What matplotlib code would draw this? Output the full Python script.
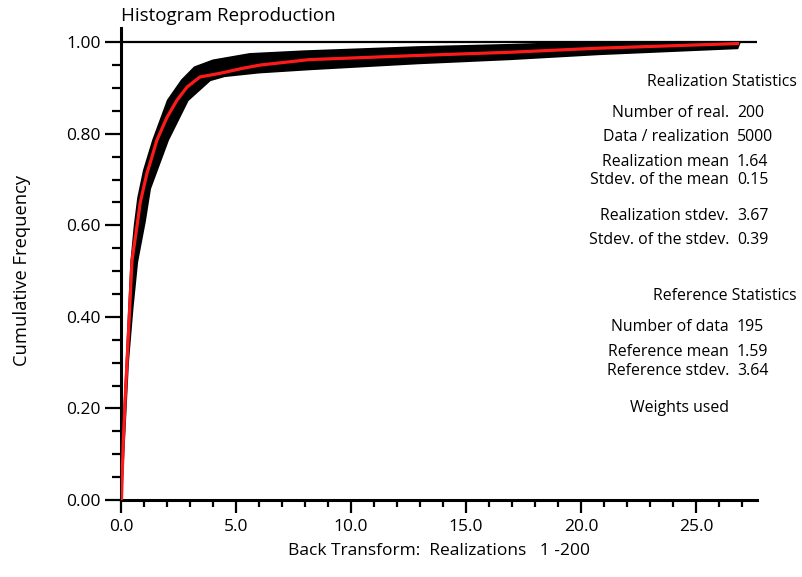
import matplotlib
matplotlib.use("Agg")
import matplotlib.pyplot as plt
import numpy as np
from matplotlib.ticker import MultipleLocator

plt.rcParams["font.family"] = ["Open Sans", "DejaVu Sans"]

# envelope of the 200 realization CDFs (upper/left edge and lower/right edge)
band_hi_x = [0.0, 0.1, 0.3, 0.45, 0.6, 0.75, 1.0, 1.4, 2.04, 2.65, 3.2, 4.0, 5.6, 8.0, 12.9, 16.9, 20.0, 26.9]
band_hi_y = [0.0, 0.15, 0.36, 0.52, 0.60, 0.66, 0.72, 0.786, 0.873, 0.917, 0.945, 0.960, 0.974, 0.980, 0.989, 0.994, 0.999, 1.0]
band_lo_x = [0.0, 0.1, 0.3, 0.5, 0.7, 1.04, 1.26, 2.04, 2.9, 3.87, 4.5, 6.0, 8.2, 12.9, 16.9, 20.8, 26.8, 26.9]
band_lo_y = [0.0, 0.10, 0.30, 0.42, 0.52, 0.61, 0.68, 0.786, 0.873, 0.917, 0.926, 0.934, 0.941, 0.954, 0.963, 0.974, 0.987, 1.0]

# reference distribution CDF
ref_x = [0.02, 0.1, 0.2, 0.3, 0.48, 0.7, 0.83, 0.96, 1.13, 1.35, 1.56, 2.0, 2.43, 2.87, 3.43,
         4.3, 5.3, 6.04, 8.2, 12.9, 16.9, 20.8, 26.8]
ref_y = [0.0, 0.13, 0.24, 0.34, 0.524, 0.60, 0.648, 0.677, 0.714, 0.75, 0.786, 0.836, 0.873, 0.902, 0.924,
         0.932, 0.943, 0.950, 0.962, 0.971, 0.978, 0.987, 0.997]

real_labels = ["Number of real.", "Data / realization", "Realization mean", "Stdev. of the mean",
               "Realization stdev.", "Stdev. of the stdev."]
real_values = ["200", "5000", "1.64", "0.15", "3.67", "0.39"]
ref_labels = ["Number of data", "Reference mean", "Reference stdev."]
ref_values = ["195", "1.59", "3.64"]

W, H = 802, 577
fig = plt.figure(figsize=(W / 100, H / 100), dpi=100)
ax = fig.add_axes([121 / W, 77 / H, 636 / W, 472 / H])

poly_x = np.concatenate([band_hi_x, band_lo_x[::-1]])
poly_y = np.concatenate([band_hi_y, band_lo_y[::-1]])
ax.fill(poly_x, poly_y, color="black", lw=1.5, zorder=2)
ax.plot(ref_x, ref_y, color="#ff1a1a", lw=2.3, zorder=3)
ax.axhline(1.0, color="black", lw=1.6, zorder=1)

ax.set_xlim(0, 27.65)
ax.set_ylim(0, 1.031)
for s in ("top", "right"):
    ax.spines[s].set_visible(False)
for s in ("left", "bottom"):
    ax.spines[s].set_linewidth(2.2)

ax.xaxis.set_minor_locator(MultipleLocator(1))
ax.yaxis.set_minor_locator(MultipleLocator(0.05))
ax.set_xticks(np.arange(0, 26, 5))
ax.set_xticklabels([f"{v:.1f}" for v in np.arange(0, 26, 5)])
ax.set_yticks(np.arange(0, 1.01, 0.2))
ax.set_yticklabels([f"{v:.2f}" for v in np.arange(0, 1.01, 0.2)])
ax.tick_params(axis="y", which="major", length=11.5, width=1.6, pad=3, labelsize=12.5)
ax.tick_params(axis="y", which="minor", length=6.5, width=1.6)
ax.tick_params(axis="x", which="major", length=9.5, width=1.6, pad=4, labelsize=12.5)
ax.tick_params(axis="x", which="minor", length=5, width=1.6)

fig.text(121 / W, 1 - 16 / H, "Histogram Reproduction", fontsize=13.5, ha="left", va="center")
fig.text(22 / W, 1 - 270 / H, "Cumulative Frequency", fontsize=13.2, rotation=90,
         ha="center", va="center")
fig.text(439 / W, 1 - 551 / H, "Back Transform:  Realizations   1 -200", fontsize=12.5,
         ha="center", va="center")

fs = 11.4
fig.text(797 / W, 1 - 82 / H, "Realization Statistics", fontsize=fs, ha="right", va="center")
real_rows = [113, 137, 162, 180, 216, 240]
for lab, val, yy in zip(real_labels, real_values, real_rows):
    fig.text(729 / W, 1 - yy / H, lab, fontsize=fs, ha="right", va="center")
    fig.text(737 / W, 1 - yy / H, val, fontsize=fs, ha="left", va="center")
fig.text(797 / W, 1 - 296 / H, "Reference Statistics", fontsize=fs, ha="right", va="center")
ref_rows = [327, 352, 371]
for lab, val, yy in zip(ref_labels, ref_values, ref_rows):
    fig.text(729 / W, 1 - yy / H, lab, fontsize=fs, ha="right", va="center")
    fig.text(737 / W, 1 - yy / H, val, fontsize=fs, ha="left", va="center")
fig.text(630 / W, 1 - 408 / H, "Weights used", fontsize=fs, ha="left", va="center")

fig.savefig("out.png", dpi=100)
plt.close(fig)
